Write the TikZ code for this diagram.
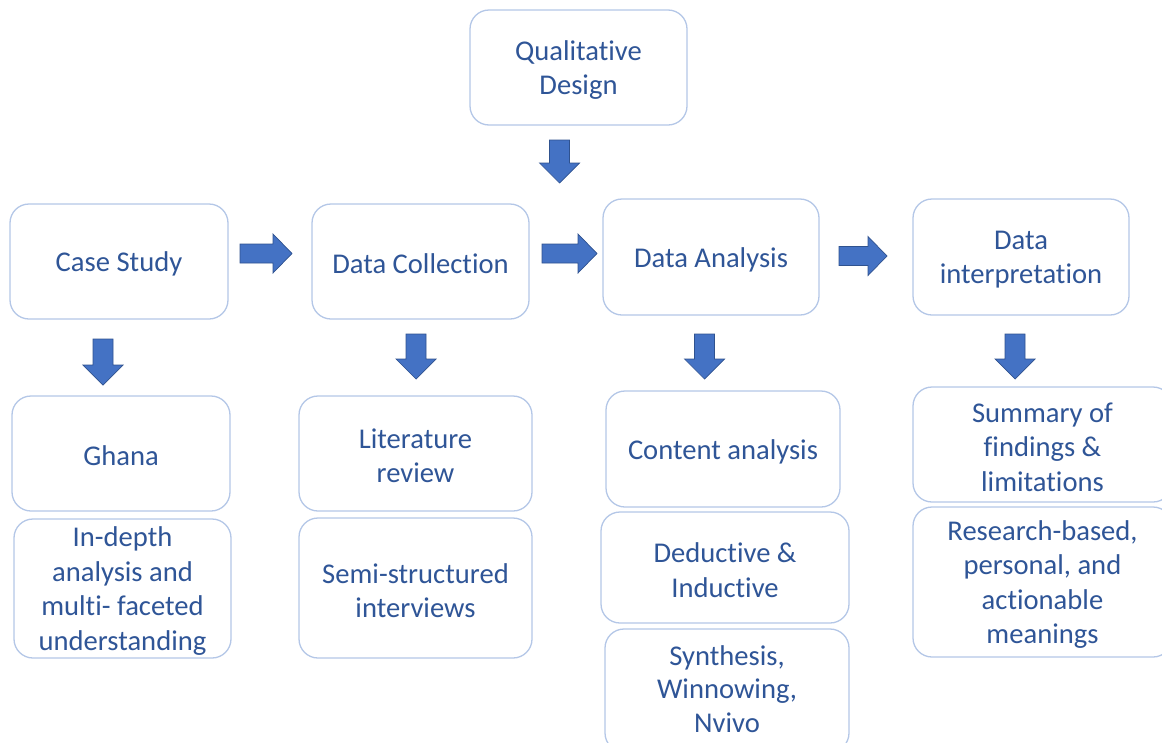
\documentclass[tikz,border=0pt]{standalone}
\usepackage{fontspec}
\setmainfont{Carlito}[Ligatures=NoCommon]
\definecolor{boxline}{HTML}{B4C7E7}
\definecolor{txtblue}{HTML}{2F5597}
\definecolor{arrfill}{HTML}{4472C4}
\definecolor{arredge}{HTML}{2F528F}
\begin{document}
\begin{tikzpicture}[x=1pt,y=-1pt,
  lbl/.style={text=txtblue, align=center, inner sep=0pt, yshift=-2.5pt,
    font=\fontsize{28.6}{34.4}\selectfont},
  rbox/.style={draw=boxline, line width=1.3pt, rounded corners=19pt, fill=white,
    inner sep=0pt},
  box/.style={rbox, label={[lbl]center:{#1}}},
  blk/.style={fill=arrfill, draw=arredge, line width=0.7pt, line join=miter},
  pics/downblk/.style={code={%
    \path[blk] (-10,0) -- (-10,{#1-20}) -- (-20,{#1-20}) -- (0,#1)
      -- (20,{#1-20}) -- (10,{#1-20}) -- (10,0) -- cycle;}},
  pics/rightblk/.style={code={%
    \path[blk] (0,-9.5) -- ({#1-19},-9.5) -- ({#1-19},-19.5) -- (#1,0)
      -- ({#1-19},19.5) -- ({#1-19},9.5) -- (0,9.5) -- cycle;}}
]
\useasboundingbox (0,0) rectangle (1162,742);
\clip (0,0) rectangle (1162,742);

% top of the flow
\node[box={Qualitative\\Design}, minimum width=217pt, minimum height=115pt] (qd) at (578.5,67.5) {};

% main stages
\node[box={Case Study}, minimum width=218pt, minimum height=115pt] (cs) at (119,261.5) {};
\node[box={Data Collection}, minimum width=217pt, minimum height=115pt] (dc) at (420.5,261.5) {};
\node[box={Data Analysis}, minimum width=216pt, minimum height=116pt] (da) at (711,257) {};
\node[box={Data\\interpretation}, minimum width=216pt, minimum height=116pt] (di) at (1021,257) {};

% details under each stage
\node[box={Ghana}, minimum width=218pt, minimum height=115pt] (gh) at (121,453.5) {};
\node[box={In-depth\\analysis and\\multi- faceted\\understanding}, minimum width=217pt, minimum height=139pt] (id) at (122.5,588.5) {};

\node[box={Literature\\review}, minimum width=233pt, minimum height=115pt] (lr) at (415.5,453.5) {};
\node[box={Semi-structured\\interviews}, minimum width=233pt, minimum height=140pt] (ss) at (415.5,588) {};

\node[box={Content analysis}, minimum width=234pt, minimum height=116pt] (ca) at (723,449) {};
\node[box={Deductive \&\\Inductive}, minimum width=248pt, minimum height=111pt] (dd) at (725,567.5) {};
\node[rbox, minimum width=244pt, minimum height=123pt,
  label={[lbl, yshift=4pt, font=\fontsize{28.6}{33.6}\selectfont]center:{Synthesis,\\Winnowing,\\Nvivo}}] (sw) at (727,690.5) {};

\node[box={Summary of\\findings \&\\limitations}, minimum width=259pt, minimum height=115pt] (sf) at (1042.5,444.5) {};
\node[box={Research-based,\\personal, and\\actionable\\meanings}, minimum width=259pt, minimum height=150pt] (rb) at (1042.5,582) {};

% block arrows
\pic at (559.5,140) {downblk=43};
\pic at (240,253.5) {rightblk=52};
\pic at (542,253.5) {rightblk=55};
\pic at (839,256) {rightblk=48};
\pic at (103,339) {downblk=46};
\pic at (416,334) {downblk=45};
\pic at (704.5,334) {downblk=45};
\pic at (1015,334) {downblk=45};
\end{tikzpicture}
\end{document}
